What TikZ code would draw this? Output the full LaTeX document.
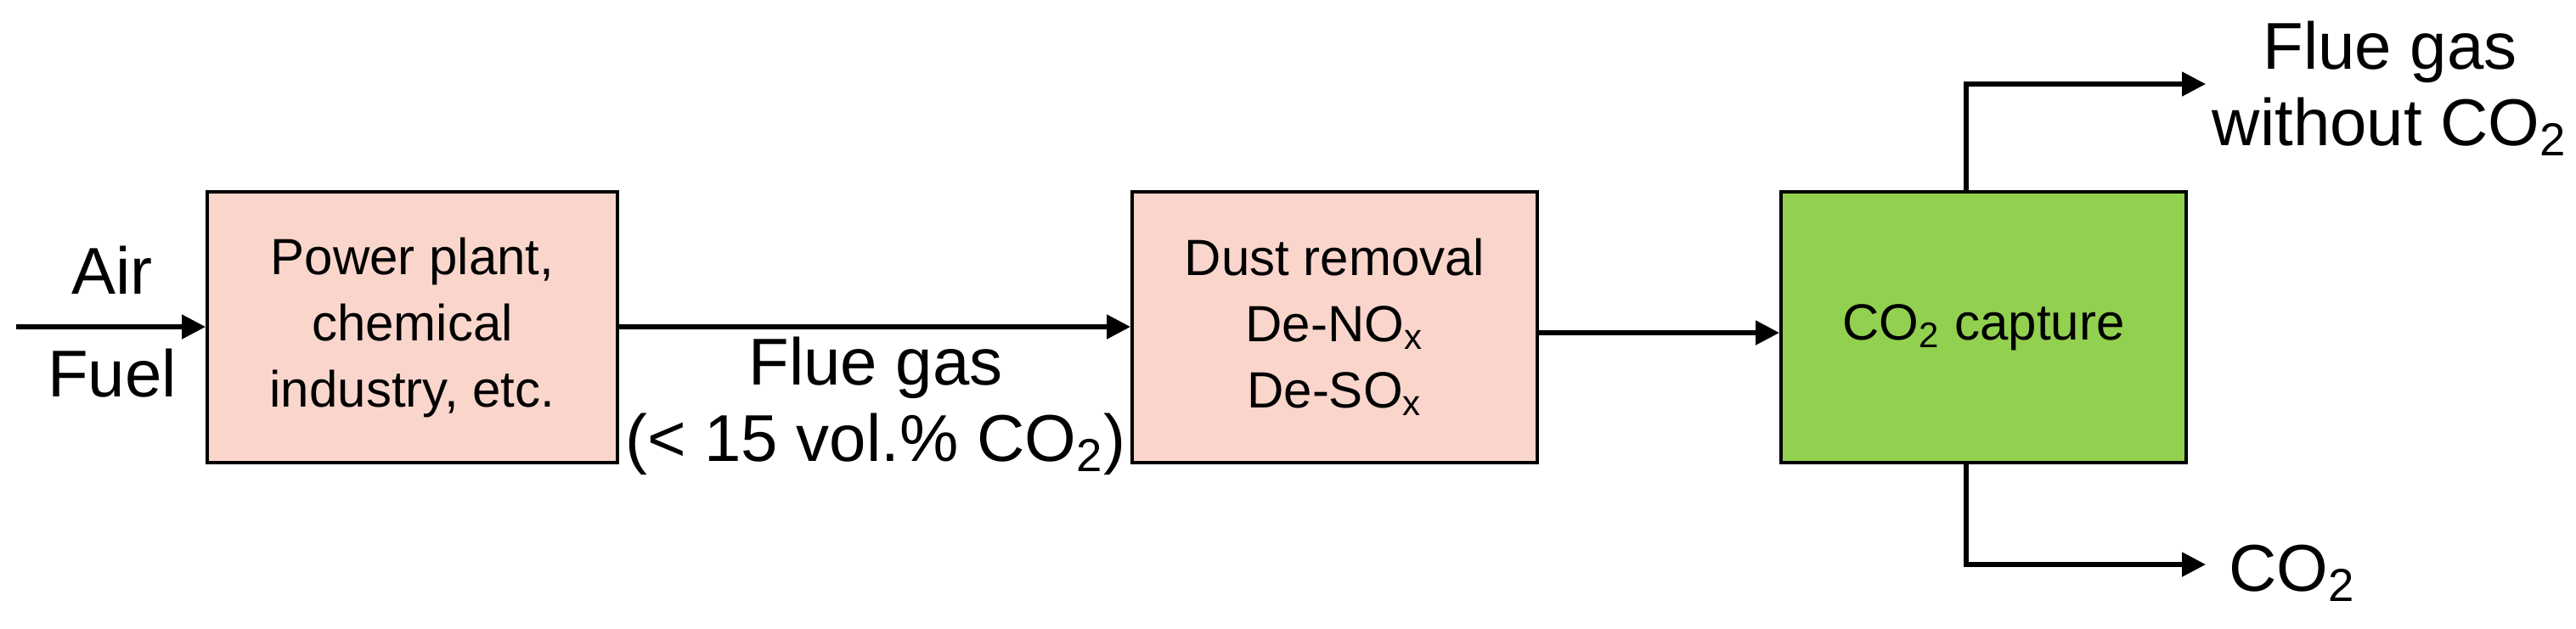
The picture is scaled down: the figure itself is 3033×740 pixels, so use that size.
\documentclass[tikz,border=0pt]{standalone}
\usepackage{fontspec}
\setmainfont{Liberation Sans}
\usetikzlibrary{arrows.meta}
\definecolor{pinkbox}{HTML}{F9D5CB}
\definecolor{greenbox}{HTML}{92D050}
\begin{document}
\begin{tikzpicture}[x=0.25pt,y=-0.25pt,
  box/.style={draw=black,line width=1pt,minimum width=120pt,minimum height=80pt,align=center,font=\fontsize{15}{19.5}\selectfont,anchor=north west,inner sep=0pt},
  lab/.style={align=center,font=\fontsize{19.5}{22.5}\selectfont},
  arr/.style={line width=1.3pt,-{Triangle[length=7pt,width=7pt]}}]
\useasboundingbox (0,0) rectangle (3033,740);
\node[box,fill=pinkbox,minimum width=120.75pt,minimum height=79.75pt] (b1) at (242,224) {Power plant,\\chemical\\industry, etc.};
\node[box,fill=pinkbox,minimum width=119.25pt,minimum height=79.75pt] (b2) at (1331,224) {Dust removal\\De-NO\textsubscript{x}\\De-SO\textsubscript{x}};
\node[box,fill=greenbox,minimum width=119.25pt,minimum height=79.75pt] (b3) at (2095,224) {CO\textsubscript{2} capture};
\coordinate (in) at (19,385);
\draw[arr] (in) -- (b1.west |- in);
\draw[arr] (b1.east |- in) -- (b2.west |- in);
\draw[arr] (b2.east |- 0,392) -- (b3.west |- 0,392);
\coordinate (t) at (2597,99);
\coordinate (bo) at (2597,665);
\draw[arr] (2315,224) |- (t);
\draw[arr] (2315,543) |- (bo);
\node[lab] (air) at (132,318) {Air};
\node[lab] (fuel) at (132,440) {Fuel};
\node[lab] (fg) at (1031,478) {Flue gas\\(< 15 vol.\% CO\textsubscript{2})};
\node[lab] (fgo) at (2814,104) {Flue gas\\without CO\textsubscript{2}};
\node[lab,anchor=west] (co2) at (2610,675) {CO\textsubscript{2}};
\end{tikzpicture}
\end{document}
